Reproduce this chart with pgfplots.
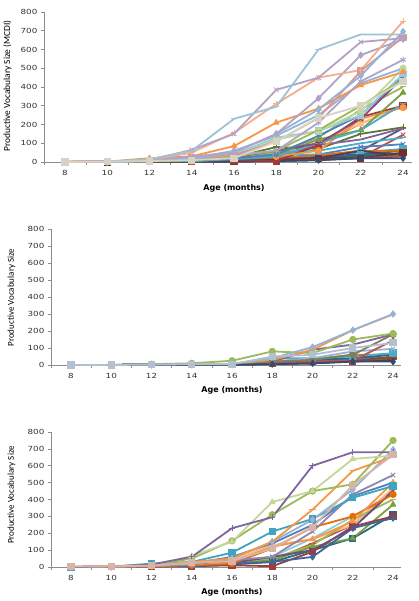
\documentclass[border=0pt]{standalone}
\usepackage{pgfplots}
\pgfplotsset{compat=1.18}
\usepackage{pgfplotstable}
\usepackage{fontspec}
\setmainfont{DejaVu Sans}
\newfontfamily\tickfont[FakeStretch=1.25]{DejaVu Sans}
\newfontfamily\labfont{Carlito}

\definecolor{cBlue}{HTML}{4F81BD}
\definecolor{cRed}{HTML}{C0504D}
\definecolor{cGreen}{HTML}{9BBB59}
\definecolor{cPurple}{HTML}{8064A2}
\definecolor{cAqua}{HTML}{4BACC6}
\definecolor{cOrange}{HTML}{F79646}
\definecolor{dBlue}{HTML}{2C4D75}
\definecolor{dRed}{HTML}{772C2A}
\definecolor{dGreen}{HTML}{5F7530}
\definecolor{dPurple}{HTML}{4D3B62}
\definecolor{dAqua}{HTML}{276A7C}
\definecolor{dOrange}{HTML}{B65708}
\definecolor{mBlue}{HTML}{3A679C}
\definecolor{mRed}{HTML}{9F3B38}
\definecolor{mGreen}{HTML}{7E9D40}
\definecolor{mPurple}{HTML}{664F83}
\definecolor{mOrange}{HTML}{E46C0A}
\definecolor{lBlue}{HTML}{95B3D7}
\definecolor{lRed}{HTML}{D99694}
\definecolor{lGreen}{HTML}{C3D69B}
\definecolor{lPurple}{HTML}{B3A2C7}
\definecolor{lAqua}{HTML}{93CDDD}
\definecolor{lOrange}{HTML}{FAC090}
\definecolor{sky}{HTML}{9DC3D8}
\definecolor{salmon}{HTML}{F4AE8A}
\definecolor{pink}{HTML}{E6B9B8}
\definecolor{tan}{HTML}{D8B4A6}
\definecolor{teal}{HTML}{3FA4C0}
\definecolor{grayp}{HTML}{8E86AE}
\definecolor{olivegray}{HTML}{7E7E60}
\definecolor{mauve}{HTML}{8B4A7A}
\definecolor{lgray}{HTML}{D5D3C4}
\definecolor{bgray}{HTML}{B3C0CF}
\definecolor{axgray}{HTML}{8C8C8C}

% typical group (third panel)
\pgfplotstableread{
a  t1  t2  t3  t4  t5  t6  t7  t8  t9  t10 t11 t12 t13 t14 t15 t16 t17 t18 t19 t20
8  0   0   2   0   0   3   0   0   0   0   0   0   0   0   0   0   0   0   0   0
10 2   3   3   2   2   4   2   2   2   2   2   2   1   1   1   1   1   1   1   1
12 15  10  10  10  10  8   20  8   10  5   5   5   5   3   5   5   5   5   5   5
14 60  65  50  30  20  25  30  15  20  15  10  10  5   5   5   5   10  10  10  10
16 230 150 155 50  50  35  85  40  60  30  20  25  20  10  20  15  30  40  30  20
18 295 385 310 150 150 110 210 60  140 120 110 60  30  5   40  30  50  130 60  40
20 600 450 450 340 280 235 285 210 250 165 235 100 60  90  120 100 130 165 170 140
22 680 640 490 570 460 485 410 430 420 270 300 230 230 240 170 170 280 250 300 250
24 680 660 750 655 695 665 480 545 500 500 430 450 290 300 370 310 400 470 440 460
}\typ

% late group (second panel)
\pgfplotstableread{
a  l1  l2  l3  l4  l5  l6  l7  l8  l9  l10 l11 l12 l13 l14 l15 l16 l17 l18
8  0   0   0   0   0   0   0   0   0   0   0   0   0   0   0   0   0   0
10 0   0   0   0   0   0   0   0   0   0   0   0   0   0   0   0   0   0
12 2   2   5   2   2   2   2   5   2   2   2   2   2   2   5   2   2   2
14 5   5   10  5   5   5   5   5   5   5   2   2   2   2   5   5   2   5
16 5   5   25  5   5   5   5   5   5   5   2   2   2   2   5   5   5   5
18 40  30  80  20  20  10  50  20  40  10  5   10  5   5   15  20  10  10
20 105 90  70  30  90  20  60  40  40  30  10  20  10  10  25  35  20  20
22 205 205 150 60  120 25  100 80  50  40  20  20  25  20  35  60  30  60
24 300 298 185 180 180 145 130 95  70  60  20  50  40  30  45  60  40  30
}\late

\pgfplotsset{
  panel/.style={
    scale only axis, anchor=south west, clip=false,
    xmin=7, xmax=24.4, ymin=0, ymax=800,
    axis x line*=bottom, axis y line*=left,
    axis line style={-, draw=axgray, line width=0.6pt},
    xtick={8,10,...,24}, minor xtick={7,9,...,23},
    ytick={0,100,...,800},
    tick align=outside,
    major tick length=3pt, minor tick length=3pt,
    major x tick style={draw=none},
    minor x tick style={draw=axgray, line width=0.6pt},
    major y tick style={draw=axgray, line width=0.6pt},
    /pgf/number format/assume math mode=true,
    tick label style={font=\tickfont\fontsize{7}{8}\selectfont, text=black!80},
    xticklabel style={yshift=-2pt},
    every axis plot/.append style={line width=1.8pt, mark size=3.1pt, line join=round},
  },
}
\newcommand{\ser}[3]{\addplot[color=#1, mark=#2, mark options={solid, line width=1pt}] table[x=a, y=#3]{\typ};}
\newcommand{\lser}[3]{\addplot[color=#1, mark=#2, mark options={solid, line width=1pt}] table[x=a, y=#3]{\late};}

\begin{document}
\begin{tikzpicture}[x=1pt,y=1pt]
\path[use as bounding box] (0,0) rectangle (419,601);

% ---------- panel 1: all children ----------
\begin{axis}[panel, at={(43.9pt,439pt)}, width=367.6pt, height=150pt]
\lser{mOrange}{-}{l2}
\lser{lOrange}{*}{l1}
\lser{dGreen}{+}{l3}
\lser{mPurple}{-}{l4}
\lser{cPurple}{-}{l5}
\lser{cRed}{x}{l6}
\lser{cAqua}{-}{l7}
\lser{cBlue}{x}{l8}
\lser{cAqua}{square*}{l9}
\lser{dAqua}{-}{l10}
\lser{mOrange}{-}{l16}
\lser{mBlue}{-}{l15}
\lser{dAqua}{-}{l17}
\lser{dPurple}{-}{l18}
\lser{dGreen}{triangle*}{l13}
\lser{dRed}{square*}{l12}
\lser{cRed}{-}{l14}
\lser{dBlue}{diamond*}{l11}
\ser{mRed}{square*}{t14}
\ser{cOrange}{*}{t13}
\ser{mGreen}{triangle*}{t15}
\ser{cAqua}{-}{t16}
\ser{cGreen}{-}{t17}
\ser{mauve}{x}{t12}
\ser{cBlue}{asterisk}{t20}
\ser{lAqua}{square*}{t18}
\ser{lBlue}{diamond*}{t9}
\ser{lGreen}{*}{t10}
\ser{cGreen}{-}{t19}
\ser{cOrange}{triangle*}{t7}
\ser{lPurple}{asterisk}{t8}
\ser{lRed}{square*}{t6}
\ser{lBlue}{diamond*}{t5}
\ser{lPurple}{diamond*}{t4}
\ser{salmon}{+}{t3}
\ser{lPurple}{x}{t2}
\ser{sky}{-}{t1}
\ser{lgray}{square*}{t11}
\end{axis}

% ---------- panel 2: late group ----------
\begin{axis}[panel, at={(50.9pt,236pt)}, width=350.2pt, height=136pt]
\lser{dPurple}{-}{l18}
\lser{dAqua}{-}{l17}
\lser{mOrange}{-}{l16}
\lser{cBlue}{-}{l15}
\lser{dRed}{-}{l14}
\lser{dGreen}{-}{l13}
\lser{mRed}{square*}{l12}
\lser{dAqua}{-}{l10}
\lser{cAqua}{square*}{l9}
\lser{lBlue}{x}{l8}
\lser{cRed}{triangle*}{l6}
\lser{cPurple}{-}{l5}
\lser{olivegray}{*}{l4}
\lser{cGreen}{*}{l3}
\lser{cOrange}{-}{l2}
\lser{lBlue}{diamond*}{l1}
\lser{dBlue}{diamond*}{l11}
\lser{bgray}{square*}{l7}
\end{axis}

% ---------- panel 3: typical group ----------
\begin{axis}[panel, at={(50.9pt,34pt)}, width=350.2pt, height=135pt]
\ser{cRed}{-}{t20}
\ser{lAqua}{-}{t19}
\ser{lOrange}{-}{t18}
\ser{cGreen}{-}{t17}
\ser{dAqua}{square*}{t16}
\ser{mGreen}{triangle*}{t15}
\ser{mRed}{square*}{t14}
\ser{mBlue}{diamond*}{t13}
\ser{mPurple}{x}{t12}
\ser{mOrange}{*}{t11}
\ser{cOrange}{triangle*}{t10}
\ser{cBlue}{-}{t9}
\ser{grayp}{x}{t8}
\ser{teal}{square*}{t7}
\ser{lBlue}{diamond*}{t5}
\ser{cOrange}{-}{t4}
\ser{cGreen}{*}{t3}
\ser{lGreen}{triangle*}{t2}
\ser{cPurple}{+}{t1}
\ser{tan}{square*}{t6}
\end{axis}

% ---------- axis titles ----------
\node[rotate=90, font=\labfont\fontsize{9.4}{10}\selectfont] at (7.5,515) {Productive Vocabulary Size (MCDI)};
\node[font=\bfseries\fontsize{8}{9}\selectfont] at (234,413) {Age (months)};
\node[rotate=90, font=\labfont\fontsize{9}{10}\selectfont] at (11.5,303.5) {Productive Vocabulary Size};
\node[font=\bfseries\fontsize{8}{9}\selectfont] at (232,211) {Age (months)};
\node[rotate=90, font=\labfont\fontsize{9}{10}\selectfont] at (11.5,106) {Productive Vocabulary Size};
\node[font=\bfseries\fontsize{8}{9}\selectfont] at (232,9) {Age (months)};
\end{tikzpicture}
\end{document}
